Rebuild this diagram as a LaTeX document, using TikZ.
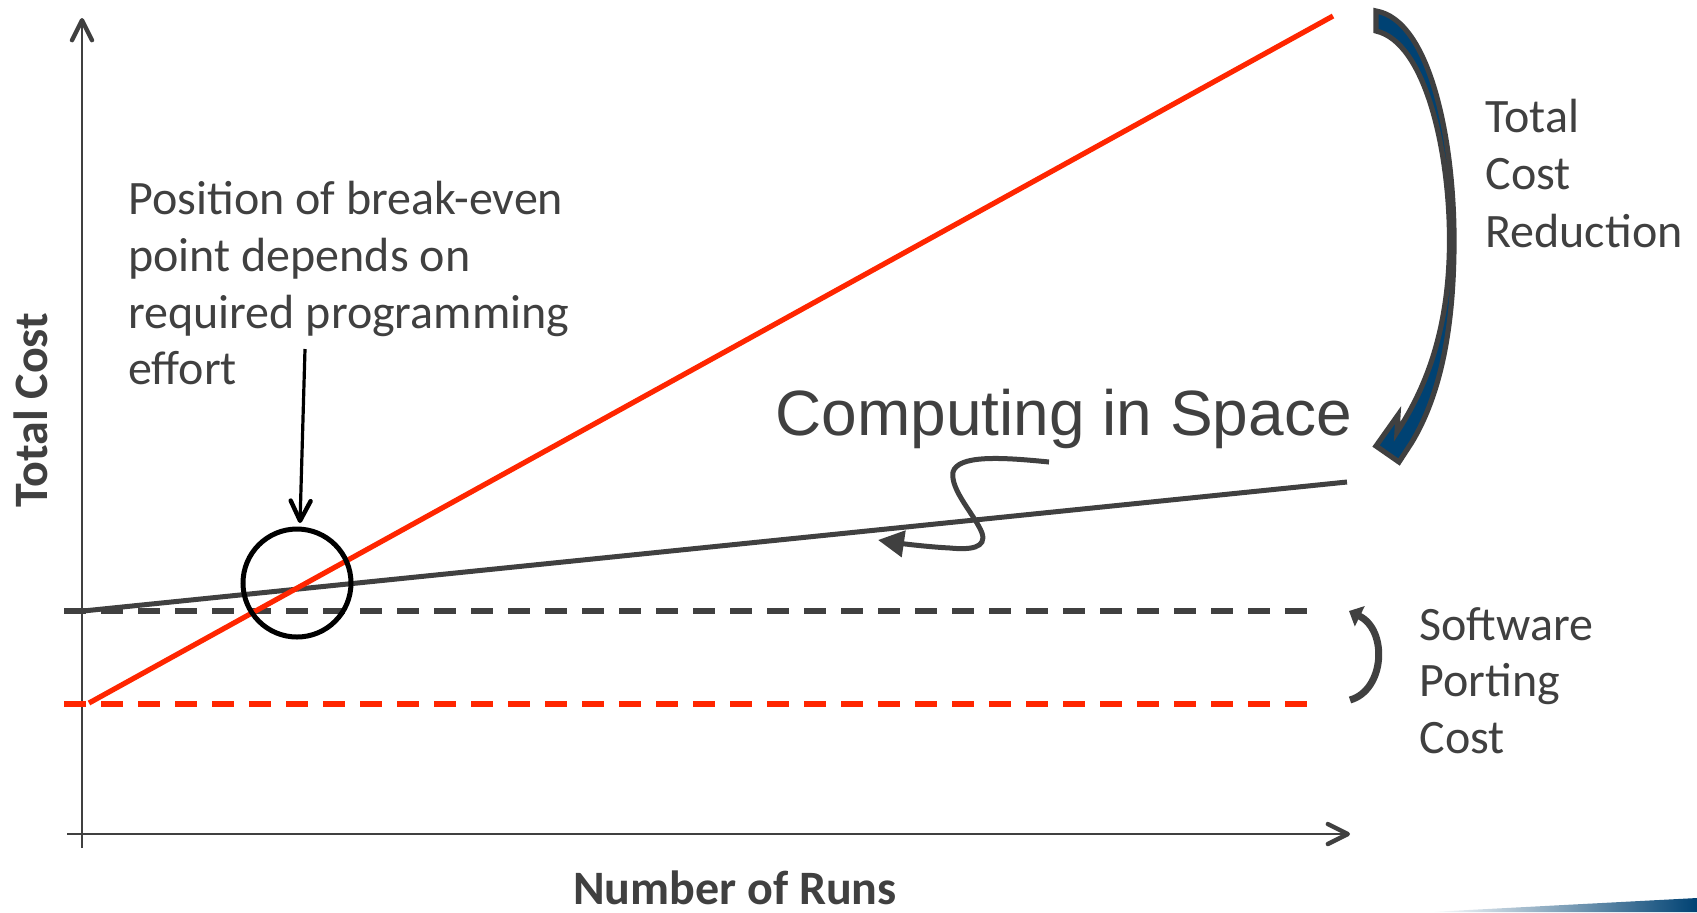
\documentclass[tikz,border=0pt]{standalone}
\usepackage{fontspec}
\setmainfont{Carlito}
\newfontfamily\arialfont{Liberation Sans}
\usetikzlibrary{arrows.meta}
\definecolor{dgray}{RGB}{64,64,64}
\definecolor{cred}{RGB}{255,38,0}
\definecolor{cblue}{RGB}{0,66,115}
\tikzset{
  lbl/.style={inner sep=0pt, anchor=base west, text=dgray, font=\fontsize{24}{28.5}\selectfont},
  axisline/.style={dgray, line width=1pt, -{Straight Barb[length=10pt,width=10pt,line width=2.2pt,round]}},
  curvegray/.style={dgray, line width=2.5pt},
  curvered/.style={cred, line width=2.6pt},
  dashgray/.style={dgray, line width=2.6pt, dash pattern=on 11pt off 7.5pt},
  dashred/.style={cred, line width=2.6pt, dash pattern=on 11pt off 7.5pt},
}
\begin{document}
\begin{tikzpicture}[x=0.5pt,y=-0.5pt]
\useasboundingbox (0,0) rectangle (1697,912);
% axes
\coordinate (yb) at (82,848);
\coordinate (yt) at (82,18);
\coordinate (xl) at (67,834);
\coordinate (xr) at (1350,834);
\draw[axisline] (yb) -- (yt);
\draw[axisline] (xl) -- (xr);
% dashed lines
\coordinate (dg0) at (64,611);
\coordinate (dg1) at (1318,611);
\coordinate (dr0) at (64,704);
\coordinate (dr1) at (1318,704);
\draw[dashgray] (dg0) -- (dg1);
\draw[dashred] (dr0) -- (dr1);
% solid lines
\coordinate (g0) at (83,611);
\coordinate (g1) at (1347,482);
\coordinate (r0) at (89,703);
\coordinate (r1) at (1333,16);
\draw[curvegray] (g0) -- (g1);
\draw[curvered] (r0) -- (r1);
% break-even circle
\node[circle, draw=black, line width=2.5pt, minimum size=54pt, inner sep=0pt] (brk) at (297,583) {};
% text
\node[lbl] (p1) at (128,214) {Position of break-even};
\node[lbl] (p2) at (128,271) {point depends on};
\node[lbl] (p3) at (128,328) {required programming};
\node[lbl] (p4) at (128,384) {effort};
\coordinate (a0) at (305,349);
\coordinate (a1) at (300,523);
\draw[black, line width=1.6pt, -{Straight Barb[length=10pt,width=10pt,line width=2.2pt,round]}] (a0) -- (a1);
% total cost reduction
\node[lbl] (t1) at (1485,132) {Total};
\node[lbl] (t2) at (1485,189) {Cost};
\node[lbl] (t3) at (1485,247) {Reduction};
\filldraw[fill=cblue, draw=dgray, line width=2.6pt, line join=miter]
  (1376,11) .. controls (1430,20) and (1454,140) .. (1454,240)
  .. controls (1454,330) and (1440,395) .. (1412,442)
  -- (1399,462) -- (1376,446) -- (1398,415) -- (1397,432)
  .. controls (1428,385) and (1449.5,325) .. (1449.5,240)
  .. controls (1449.5,150) and (1425,42) .. (1376,31) -- cycle;
% computing in space
\node[inner sep=0pt, anchor=base west, text=dgray, font=\arialfont\fontsize{32}{38}\selectfont] (cis) at (775,435) {Computing in Space};
\coordinate (q0) at (1049,462);
\coordinate (q1) at (878,540);
\draw[dgray, line width=2.5pt, -{Triangle[length=13pt,width=13pt]}]
  (q0) .. controls (1000,457) and (958,455) .. (953,472)
  .. controls (950,490) and (975,515) .. (982,533)
  .. controls (987,548) and (970,550) .. (950,548)
  .. controls (930,547) and (905,544) .. (q1);
% software porting cost
\node[lbl] (s1) at (1419,640) {Software};
\node[lbl] (s2) at (1419,696) {Porting};
\node[lbl] (s3) at (1419,753) {Cost};
\coordinate (sb) at (1350,700);
\coordinate (se) at (1349,611);
\draw[dgray, line width=3.5pt, -{Triangle[length=6pt,width=11pt]}]
  (sb) .. controls (1385,690) and (1388,630) .. (se);
% axis labels
\node[inner sep=0pt, anchor=base, text=dgray, font=\bfseries\fontsize{24}{28.5}\selectfont] (xlab) at (735,904) {Number of Runs};
\node[inner sep=0pt, anchor=base, rotate=90, text=dgray, font=\bfseries\fontsize{24}{28.5}\selectfont] (ylab) at (47,410) {Total Cost};
% decorative swoosh
\shade[left color=white, right color=cblue] (1430,912) -- (1697,898) -- (1697,912) -- cycle;
\end{tikzpicture}
\end{document}
